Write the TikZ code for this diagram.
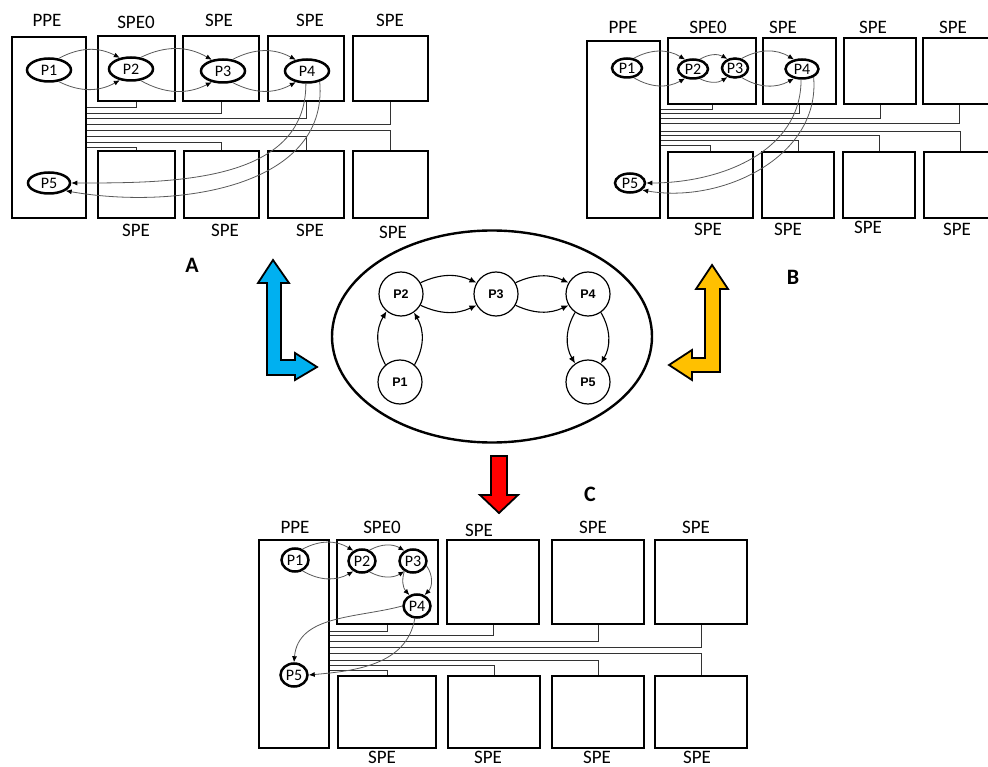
\documentclass[tikz,border=0pt]{standalone}
\usepackage{fontspec}
\setmainfont{Carlito}
\newfontfamily\arialfont{Liberation Sans}
\usetikzlibrary{shapes.geometric,arrows.meta}
\definecolor{blueArrow}{HTML}{00B0F0}
\definecolor{amberArrow}{HTML}{FFC000}
\definecolor{redArrow}{HTML}{FF0000}
\tikzset{
  box/.style 2 args={draw, line width=2.6pt, minimum width=#1, minimum height=#2, inner sep=0pt},
  lbl/.style={font=\fontsize{19}{19}\selectfont, inner sep=0pt},
  bus/.style={black!80, line width=0.9pt},
  proc/.style 2 args={ellipse, draw, line width=2.5pt, fill=white, minimum width=#1, minimum height=#2, inner sep=0pt, font=\fontsize{16}{16}\selectfont},
  flow/.style={black!65, line width=0.8pt, -{Latex[length=6pt, width=5pt, color=black]}},
  task/.style={circle, draw, line width=1.2pt, minimum size=44, inner sep=0pt, font=\arialfont\bfseries\fontsize{12.5}{12.5}\selectfont},
  dep/.style={line width=1.1pt, -{Latex[length=7pt, width=6pt]}},
  bigarrow/.style={draw, line width=1.8pt, line join=miter},
  tag/.style={font=\bfseries\fontsize{22}{22}\selectfont, inner sep=0pt}
}
\begin{document}
\begin{tikzpicture}[x=1pt, y=-1pt]
\useasboundingbox (0,0) rectangle (988,767);
% panel A
\node[box={74}{181}] (aPPE) at (49,127.5) {};
\node[lbl] (aLppe) at (47,20) {PPE};
\foreach \n/\cx/\w/\by/\lx/\ly/\t in {1/136.5/77/107/136/22/SPE0, 2/221/76/113/219/20/SPE, 3/306/76/118/310/20/SPE, 4/390.5/75/124/390/20/SPE}{
  \node[box={\w}{65}] (aT\n) at (\cx,68.5) {};
  \node[lbl] (aTl\n) at (\lx,\ly) {\t};
  \draw[bus] (aT\n.south) |- (aPPE.east |- 0,\by);
}
\foreach \n/\cx/\w/\by/\lx/\ly in {1/136.5/77/147/136/230, 2/221.5/75/142/225/230, 3/306/76/136/310/230, 4/390.5/75/130/393/232}{
  \node[box={\w}{67}] (aB\n) at (\cx,184.5) {};
  \node[lbl] (aBl\n) at (\lx,\ly) {SPE};
  \draw[bus] (aB\n.north) |- (aPPE.east |- 0,\by);
}
\node[proc={44}{23}] (a1) at (49,70) {P1};
\node[proc={44}{23}] (a2) at (131,69) {P2};
\node[proc={44}{23}] (a3) at (223,71) {P3};
\node[proc={44}{23}] (a4) at (307,71) {P4};
\node[proc={42}{21}] (a5) at (49,183) {P5};
\foreach \s/\e in {a1/a2, a2/a3, a3/a4}{
  \draw[flow] (\s.50) to[bend left=28] (\e.135);
  \draw[flow] (\s.-50) to[bend right=28] (\e.-135);
}
\draw[flow] (a4.-95) to[out=-90, in=0] (a5.east);
\draw[flow] (a4.-40) to[out=-85, in=-10] (a5.-25);
\node[tag] (tagA) at (192,265) {A};

% panel B
\node[box={73}{177}] (bPPE) at (623.5,129.5) {};
\node[lbl] (bLppe) at (623,27) {PPE};
\foreach \n/\cx/\w/\by/\lx/\ly/\t in {1/712/88/109/708/27/SPE0, 2/799.5/73/113/783/27/SPE, 3/880/72/118/873/27/SPE, 4/959/72/123/953/27/SPE}{
  \node[box={\w}{66}] (bT\n) at (\cx,71) {};
  \node[lbl] (bTl\n) at (\lx,\ly) {\t};
  \draw[bus] (bT\n.south) |- (bPPE.east |- 0,\by);
}
\foreach \n/\cx/\w/\by/\lx/\ly in {1/710.5/85/145/708/229, 2/798/72/140/788/229, 3/879/72/135/868/227, 4/960/72/131/957/229}{
  \node[box={\w}{66}] (bB\n) at (\cx,185) {};
  \node[lbl] (bBl\n) at (\lx,\ly) {SPE};
  \draw[bus] (bB\n.north) |- (bPPE.east |- 0,\by);
}
\node[proc={30}{19}] (b1) at (627,68) {P1};
\node[proc={30}{19}] (b2) at (693,69) {P2};
\node[proc={26}{19}] (b3) at (735,68) {P3};
\node[proc={33}{19}] (b4) at (802,69) {P4};
\node[proc={30}{19}] (b5) at (630,183) {P5};
\foreach \s/\e in {b1/b2, b2/b3, b3/b4}{
  \draw[flow] (\s.55) to[bend left=30] (\e.130);
  \draw[flow] (\s.-55) to[bend right=30] (\e.-130);
}
\draw[flow] (b4.-95) to[out=-90, in=0] (b5.east);
\draw[flow] (b4.-35) to[out=-85, in=-10] (b5.-30);
\node[tag] (tagB) at (793,277) {B};

% panel C
\node[box={70}{208}] (cPPE) at (294,644) {};
\node[lbl] (cLppe) at (295,527) {PPE};
\foreach \n/\cx/\w/\by/\lx/\ly/\t in {1/387.5/101/631/382/527/SPE0, 2/493/92/635/479/530/SPE, 3/598/92/641/593/527/SPE, 4/701/92/647/696/527/SPE}{
  \node[box={\w}{84}] (cT\n) at (\cx,582) {};
  \node[lbl] (cTl\n) at (\lx,\ly) {\t};
  \draw[bus] (cT\n.south) |- (cPPE.east |- 0,\by);
}
\foreach \n/\cx/\w/\by/\lx/\ly in {1/387/98/670/382/757, 2/494/92/665/488/757, 3/598/92/660/597/757, 4/701/92/653/697/757}{
  \node[box={\w}{72}] (cB\n) at (\cx,712) {};
  \node[lbl] (cBl\n) at (\lx,\ly) {SPE};
  \draw[bus] (cB\n.north) |- (cPPE.east |- 0,\by);
}
\node[proc={27}{23}] (c1) at (295,560) {P1};
\node[proc={27}{23}] (c2) at (362,561) {P2};
\node[proc={27}{23}] (c3) at (413,561) {P3};
\node[proc={27}{23}] (c4) at (417,606) {P4};
\node[proc={27}{23}] (c5) at (294,675) {P5};
\foreach \s/\e in {c1/c2, c2/c3}{
  \draw[flow] (\s.55) to[bend left=30] (\e.130);
  \draw[flow] (\s.-55) to[bend right=30] (\e.-130);
}
\draw[flow] (c3.-130) to[bend right=30] (c4.125);
\draw[flow] (c3.-20) to[bend left=40] (c4.55);
\draw[flow] (c4.west) to[out=195, in=85] (c5.north);
\draw[flow] (c4.-100) to[out=-100, in=5] (c5.east);
\node[tag] (tagC) at (590,494) {C};

% task graph
\node[ellipse, draw, line width=2.4pt, minimum width=320, minimum height=212] (core) at (492,336.5) {};
\node[task] (p1) at (400,382) {P1};
\node[task] (p2) at (401,294) {P2};
\node[task] (p3) at (496,294) {P3};
\node[task] (p4) at (588,294) {P4};
\node[task] (p5) at (588,382) {P5};
\foreach \s/\e in {p2/p3, p3/p4}{
  \draw[dep] (\s.30) to[bend left=25] (\e.150);
  \draw[dep] (\s.-30) to[bend right=25] (\e.-150);
}
\draw[dep] (p1.130) to[bend left=30] (p2.-130);
\draw[dep] (p1.50) to[bend right=30] (p2.-55);
\draw[dep] (p4.-125) to[bend right=30] (p5.125);
\draw[dep] (p4.-55) to[bend left=30] (p5.55);

% mapping arrows
\draw[bigarrow, fill=blueArrow] (273,260) -- (289,283) -- (281,283) -- (281,360) -- (295,360) -- (295,353) -- (317,367) -- (295,380) -- (295,375) -- (267,375) -- (267,283) -- (258,283) -- cycle;
\draw[bigarrow, fill=amberArrow] (712,265) -- (728,289) -- (720,289) -- (720,372) -- (692,372) -- (692,380) -- (669,365) -- (692,350) -- (692,358) -- (705,358) -- (705,289) -- (696,289) -- cycle;
\draw[bigarrow, fill=redArrow] (491,456) -- (507,456) -- (507,495) -- (518,495) -- (499,513) -- (480,495) -- (491,495) -- cycle;
\end{tikzpicture}
\end{document}
